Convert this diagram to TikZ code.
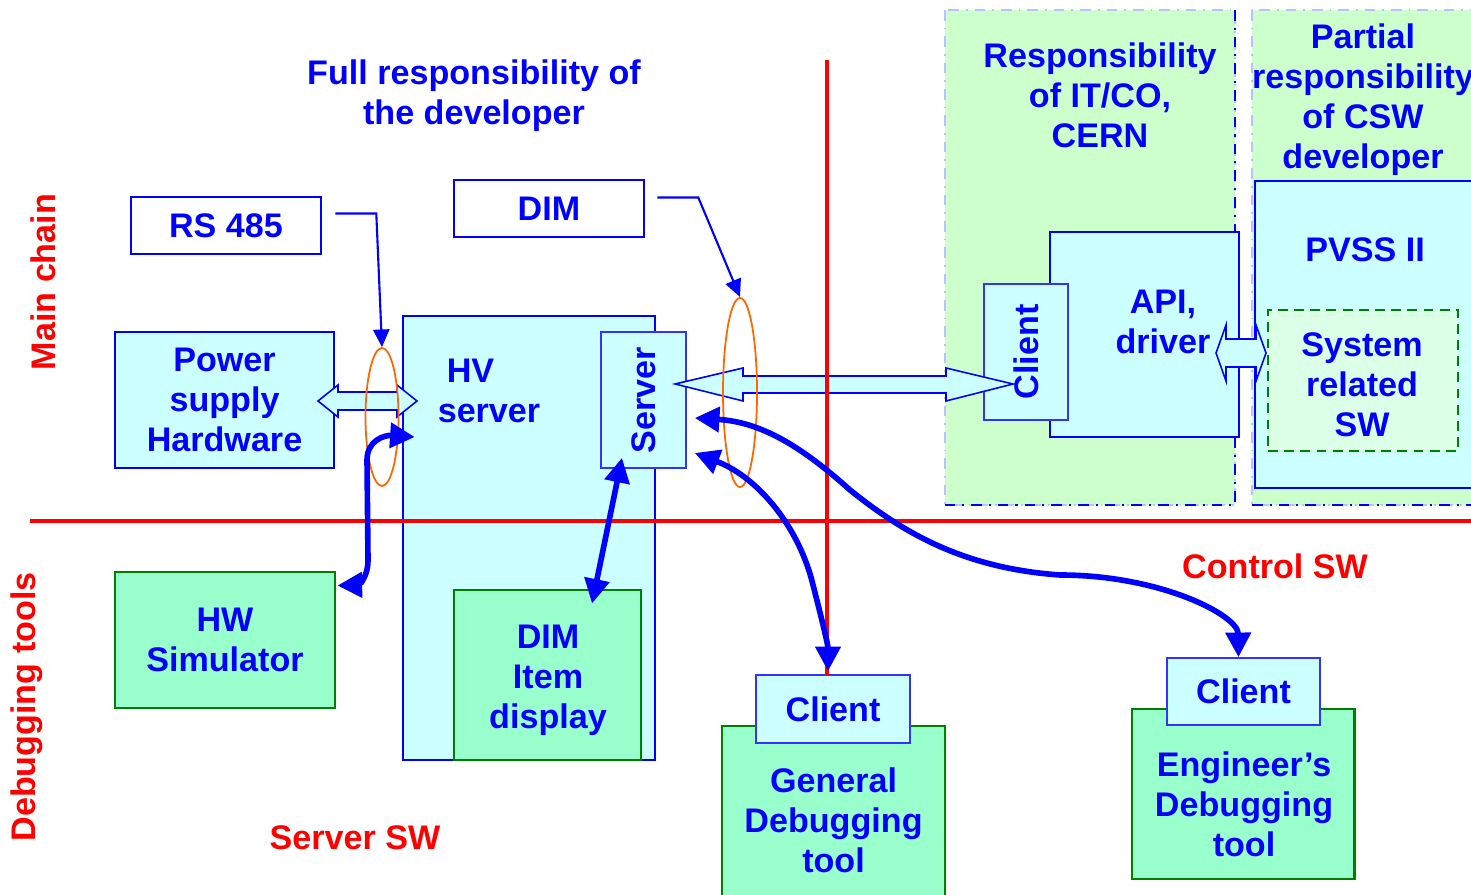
\documentclass[tikz,border=0pt]{standalone}
\usepackage{fontspec}
\setmainfont{Liberation Sans}
\usetikzlibrary{arrows.meta,shapes.geometric}
\definecolor{cyanbg}{RGB}{204,255,255}
\definecolor{mintbg}{RGB}{153,255,204}
\definecolor{zonebg}{RGB}{204,255,204}
\definecolor{swbg}{RGB}{220,255,232}
\definecolor{boxgreen}{RGB}{0,128,0}
\definecolor{ringorange}{RGB}{255,102,0}

\begin{document}
\begin{tikzpicture}[x=0.01cm, y=-0.01cm,
		every node/.style={font=\bfseries\fontsize{9.7}{11.4}\selectfont, text=blue, align=center, inner sep=0pt},
		blok/.style={draw=blue, fill=cyanbg, line width=0.7pt},
		subblok/.style={draw=blue!80, fill=cyanbg, line width=0.45pt},
		tulbox/.style={draw=boxgreen, fill=mintbg, line width=0.8pt},
		tag/.style={draw=blue, fill=white, line width=0.7pt},
		zone/.style={draw=blue!25, fill=zonebg, line width=0.5pt, dash dot},
		zoneedge/.style={draw=blue, line width=0.6pt, dash dot},
		hollow/.style={draw=blue, fill=cyanbg, line width=0.45pt},
		ring/.style={draw=ringorange, ellipse, line width=0.5pt},
		pin/.style={draw=blue, line width=0.6pt, -{Triangle[length=5pt,width=4.6pt]}},
		fat/.style={draw=blue, line width=1.6pt, {Triangle[length=7pt,width=7pt]}-{Triangle[length=7pt,width=7pt]}},
		divider/.style={draw=red, line width=1.1pt},
		redtxt/.style={text=red}]
		\useasboundingbox (0,0) rectangle (1471,895);

		% зоны ответственности
		\draw [zone] (945,10) rectangle (1235,505);
		\draw [zoneedge] (1235,10) -- (1235,505) -- (945,505);
		\draw [zone] (1252,10) rectangle (1478,505);
		\draw [zoneedge] (1252,505) -- (1478,505);

		% основная цепочка
		\node [blok, minimum width=2.19cm, minimum height=1.36cm] (psu) at (224.5,400) {Power\\supply\\Hardware};
		\node [blok, minimum width=2.52cm, minimum height=4.44cm] (hv) at (529,538) {};
		\node [align=left] (hvtxt) at (489,391) {\hspace*{0.09cm}HV\\server};
		\node [subblok, minimum width=0.85cm, minimum height=1.36cm] (srv) at (643.5,400) {\rotatebox{90}{Server}};
		\node [tag, minimum width=1.90cm, minimum height=0.57cm] (rs) at (226,225.5) {RS 485};
		\node [tag, minimum width=1.90cm, minimum height=0.57cm] (dim) at (549,208.5) {DIM};

		% сторона IT/CO и PVSS
		\node [blok, minimum width=1.89cm, minimum height=2.05cm] (api) at (1144.5,334.5) {};
		\node (apitxt) at (1163,322) {API,\\driver};
		\node [subblok, minimum width=0.84cm, minimum height=1.36cm] (cli) at (1026,352) {\rotatebox{90}{Client}};
		\node [blok, minimum width=2.30cm, minimum height=3.07cm] (pvss) at (1370,334.5) {};
		\node (pvsstxt) at (1365,250) {PVSS II};
		\node [draw=boxgreen, fill=swbg, line width=0.8pt, dash pattern=on 2.8pt off 1.8pt, minimum width=1.90cm, minimum height=1.41cm] (sysw) at (1363,380.5) {};
		\node (syswtxt) at (1362,385) {System\\related\\SW};

		% средства отладки
		\node [tulbox, minimum width=2.20cm, minimum height=1.36cm] (hwsim) at (225,640) {HW\\Simulator};
		\node [tulbox, minimum width=1.87cm, minimum height=1.70cm] (dimdisp) at (547.5,675) {};
		\node (dimdisptxt) at (548,680) {DIM\\Item\\display};
		\node [tulbox, minimum width=2.23cm, minimum height=1.88cm] (gen) at (833.5,820) {General\\Debugging\\tool};
		\node [subblok, minimum width=1.54cm, minimum height=0.68cm] (gencli) at (833,709) {Client};
		\node [tulbox, minimum width=2.22cm, minimum height=1.70cm] (eng) at (1243,794) {};
		\node (engtxt) at (1244,804) {Engineer’s\\Debugging\\tool};
		\node [subblok, minimum width=1.53cm, minimum height=0.67cm] (engcli) at (1243.5,691.5) {Client};

		% широкие двойные стрелки
		\draw [hollow] (318,401) -- (338,385) -- (338,392) -- (397,392) -- (397,385) -- (417,401)
			-- (397,417) -- (397,410) -- (338,410) -- (338,417) -- cycle;
		\draw [hollow] (675,384) -- (743,368) -- (743,376) -- (946,376) -- (946,368) -- (1013,384)
			-- (946,401) -- (946,393) -- (743,393) -- (743,401) -- cycle;
		\draw [hollow] (1216,353) -- (1226,325) -- (1226,339) -- (1256,339) -- (1256,325) -- (1266,353)
			-- (1256,381) -- (1256,367) -- (1226,367) -- (1226,381) -- cycle;

		% разделители
		\draw [divider] (30,521) -- (1471,521);
		\draw [divider] (827,60) -- (827,675);

		% интерфейсы
		\node [ring, minimum width=0.33cm, minimum height=1.38cm] (ringa) at (382,417) {};
		\node [ring, minimum width=0.34cm, minimum height=1.89cm] (ringb) at (740,392.5) {};
		\draw [pin] ([shift={(13,-12)}]rs.east) -- ++(41,0) -- (ringa.north);
		\draw [pin] ([shift={(12,-11)}]dim.east) -- ++(41,0) -- (ringb.north);

		% связи
		\draw [fat] ([shift={(1,15)}]hwsim.north east) .. controls (358,585) and (368,578) .. (368,560)
			-- (367,460) .. controls (367,440) and (385,435) .. ([shift={(13,-101)}]hv.west);
		\draw [fat] ([shift={(-21.5,-11)}]srv.south) -- ([shift={(44.5,15)}]dimdisp.north);
		\draw [fat] ([shift={(8,18)}]srv.east) .. controls (760,422) and (800,445) .. (850,490)
			.. controls (900,530) and (960,568) .. (1060,575)
			.. controls (1160,575) and (1238,615) .. ([shift={(-5,0)}]engcli.north);
		\draw [fat] ([shift={(8,53)}]srv.east) .. controls (760,478) and (800,530) .. (813,585)
			.. controls (822,620) and (828,645) .. ([shift={(-5,-3)}]gencli.north);

		% подписи
		\node [redtxt, rotate=90] (mainlbl) at (43,282) {Main chain};
		\node [redtxt, rotate=90] (dbglbl) at (27,707) {Debugging tools};
		\node [redtxt] (srvsw) at (355,838) {Server SW};
		\node [redtxt] (ctrlsw) at (1275,566) {Control SW};
		\node (fullresp) at (474,96) {Full responsibility of\\the developer};
		\node (itco) at (1100,95) {Responsibility\\of IT/CO,\\CERN};
		\node (partial) at (1363,100) {Partial\\responsibility\\of CSW\\developer};
	\end{tikzpicture}
\end{document}
